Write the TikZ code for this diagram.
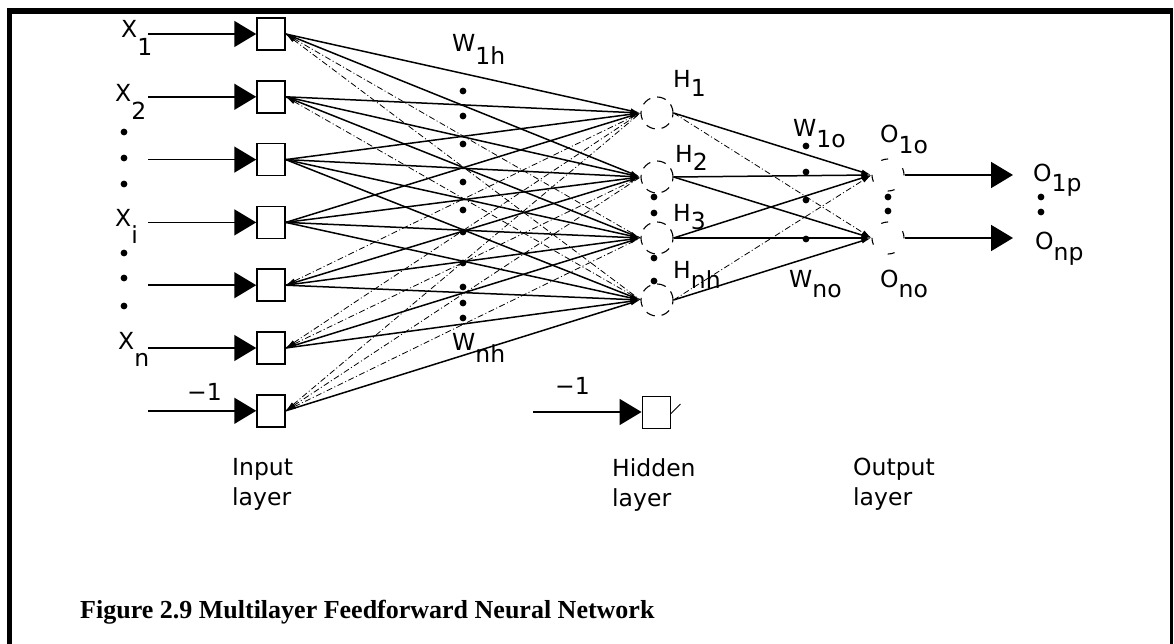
\documentclass[tikz,border=0pt]{standalone}
\usepackage{fontspec}
\setmainfont{Liberation Serif}
\newfontfamily\diagfont{DejaVu Sans}
\usetikzlibrary{arrows.meta,positioning,calc}

% lowered subscript in the same face
\newcommand{\lsub}[2][0.4em]{\raisebox{-#1}{#2}}

\tikzset{
  inbox/.style={draw,line width=1.5pt,minimum width=28pt,minimum height=32pt,inner sep=0pt},
  hidnode/.style={circle,draw,line width=1.1pt,minimum size=32pt,inner sep=0pt,dash pattern=on 9pt off 7pt},
  outnode/.style={circle,draw,line width=1.1pt,minimum size=32pt,inner sep=0pt,dash pattern=on 7pt off 18pt},
  lbl/.style={font=\diagfont\fontsize{23.5}{30}\selectfont,inner sep=0pt},
  layerlbl/.style={lbl,align=left,anchor=north west},
  feed/.style={-{Triangle[length=22pt,width=26pt]},line width=1.6pt},
  link/.style={-{Latex[length=10pt,width=5pt]},line width=1.5pt},
  weak/.style={{Latex[length=10pt,width=5pt]}-,line width=0.8pt,dash pattern=on 6pt off 2.5pt on 1pt off 2.5pt},
}

\begin{document}
\begin{tikzpicture}[x=1pt,y=-1pt]
  \useasboundingbox (0,0) rectangle (1174,644);
  % frame
  \draw[line width=5pt] (9.5,644) -- (9.5,11.5);
  \draw[line width=6pt] (7,11.5) -- (1173,11.5);
  \draw[line width=3pt] (1171.5,11.5) -- (1171.5,644);

  % input layer
  \foreach \i in {1,...,7}{
    \node[inbox] (in\i) at (271,{34+62.8*(\i-1)}) {};
    \coordinate (st\i) at (148,{34+62.8*(\i-1)});
    \draw[feed] (st\i) -- (in\i.west);
  }
  \node[lbl,anchor=base west] (xl1) at (121,38) {X\lsub[0.75em]{1}};
  \node[lbl,anchor=base west] (xl2) at (115,102) {X\lsub[0.75em]{2}};
  \node[lbl,anchor=base west] (xli) at (115,226) {X\lsub[0.75em]{i}};
  \node[lbl,anchor=base west] (xln) at (118,349) {X\lsub[0.75em]{n}};
  \node[lbl,anchor=base west] (bias1) at (187,400) {−1};
  \foreach \y in {132,158,184,253,278,306}
    \fill (124,\y) circle (3.4pt);

  % hidden layer
  \foreach \j/\y in {1/113,2/177,3/238,4/300}
    \node[hidnode] (hd\j) at (657,\y) {};
  \node[lbl,anchor=base west] (hl1) at (673,88) {H\lsub[0.35em]{1}};
  \node[lbl,anchor=base west] (hl2) at (675,163) {H\lsub[0.3em]{2}};
  \node[lbl,anchor=base west] (hl3) at (673,222) {H\lsub[0.3em]{3}};
  \node[lbl,anchor=base west] (hln) at (673,278) {H\lsub[0.45em]{nh}};
  \foreach \y in {197,213,258,281}
    \fill (654,\y) circle (3.4pt);

  % input -> hidden
  \foreach \i in {1,...,7}
    \foreach \j/\y in {1/113,2/177,3/238,4/300}{
      \pgfmathtruncatemacro{\far}{abs(34+62.8*(\i-1)-\y)>165 ? 1 : 0}
      \ifnum\far=1
        \draw[weak] (in\i.east) -- (hd\j.west);
      \else
        \draw[link] (in\i.east) -- (hd\j.west);
      \fi
    }
  \foreach \y in {91,116,144,182,210,232,263,287,303,318}
    \fill (463,\y) circle (3.4pt);
  \node[lbl,anchor=base west] (w1h) at (452,52) {W\lsub[0.55em]{1h}};
  \node[lbl,anchor=base west] (wnh) at (452,350) {W\lsub[0.55em]{nh}};

  % hidden bias
  \coordinate (hst) at (533,412);
  \node[inbox,line width=0.9pt] (hbias) at (656,412) {};
  \draw[feed] (hst) -- (hbias.west);
  \node[lbl,anchor=base west] (bias2) at (555,394) {−1};
  \draw[line width=0.9pt] ($(hbias.east)+(0,2)$) -- ++(10,-10);

  % output layer
  \node[outnode] (ot1) at (888,175) {};
  \node[outnode] (ot2) at (888,238) {};
  \node[lbl,anchor=base west] (ol1) at (880,143) {O\lsub[0.45em]{1o}};
  \node[lbl,anchor=base west] (oln) at (880,287) {O\lsub[0.45em]{no}};
  \foreach \y in {197,211}
    \fill (888,\y) circle (3.4pt);

  % hidden -> output
  \draw[link] (hd1.east) -- (ot1.west);
  \draw[weak,-{Latex[length=10pt,width=5pt]}] (hd1.east) -- (ot2.west);
  \foreach \j in {2,3}{
    \draw[link] (hd\j.east) -- (ot1.west);
    \draw[link] (hd\j.east) -- (ot2.west);
  }
  \draw[weak,-{Latex[length=10pt,width=5pt]}] (hd4.east) -- (ot1.west);
  \draw[link] (hd4.east) -- (ot2.west);
  \foreach \y in {146,172,200,239}
    \fill (806,\y) circle (3.4pt);
  \node[lbl,anchor=base west] (w1o) at (793,137) {W\lsub[0.45em]{1o}};
  \node[lbl,anchor=base west] (wno) at (789,287) {W\lsub[0.45em]{no}};

  % network outputs
  \node[lbl,anchor=base west] (op1) at (1033,182) {O\lsub[0.4em]{1p}};
  \node[lbl,anchor=base west] (opn) at (1035,250) {O\lsub[0.45em]{np}};
  \draw[feed,shorten >=20pt] (ot1.east) -- (ot1.east -| op1.west);
  \draw[feed,shorten >=20pt] (ot2.east) -- (ot2.east -| op1.west);
  \foreach \y in {197,212}
    \fill (1041,\y) circle (3.4pt);

  % layer names
  \node[layerlbl] (inlayer) at (232,458) {Input\\layer};
  \node[layerlbl] (hdlayer) at (612,458) {Hidden\\layer};
  \node[layerlbl] (otlayer) at (853,458) {Output\\layer};

  % caption
  \node[anchor=base west,inner sep=0pt,font=\bfseries\fontsize{26}{30}\selectfont] (caption) at (80,618)
    {Figure 2.9 Multilayer Feedforward Neural Network};
\end{tikzpicture}
\end{document}
